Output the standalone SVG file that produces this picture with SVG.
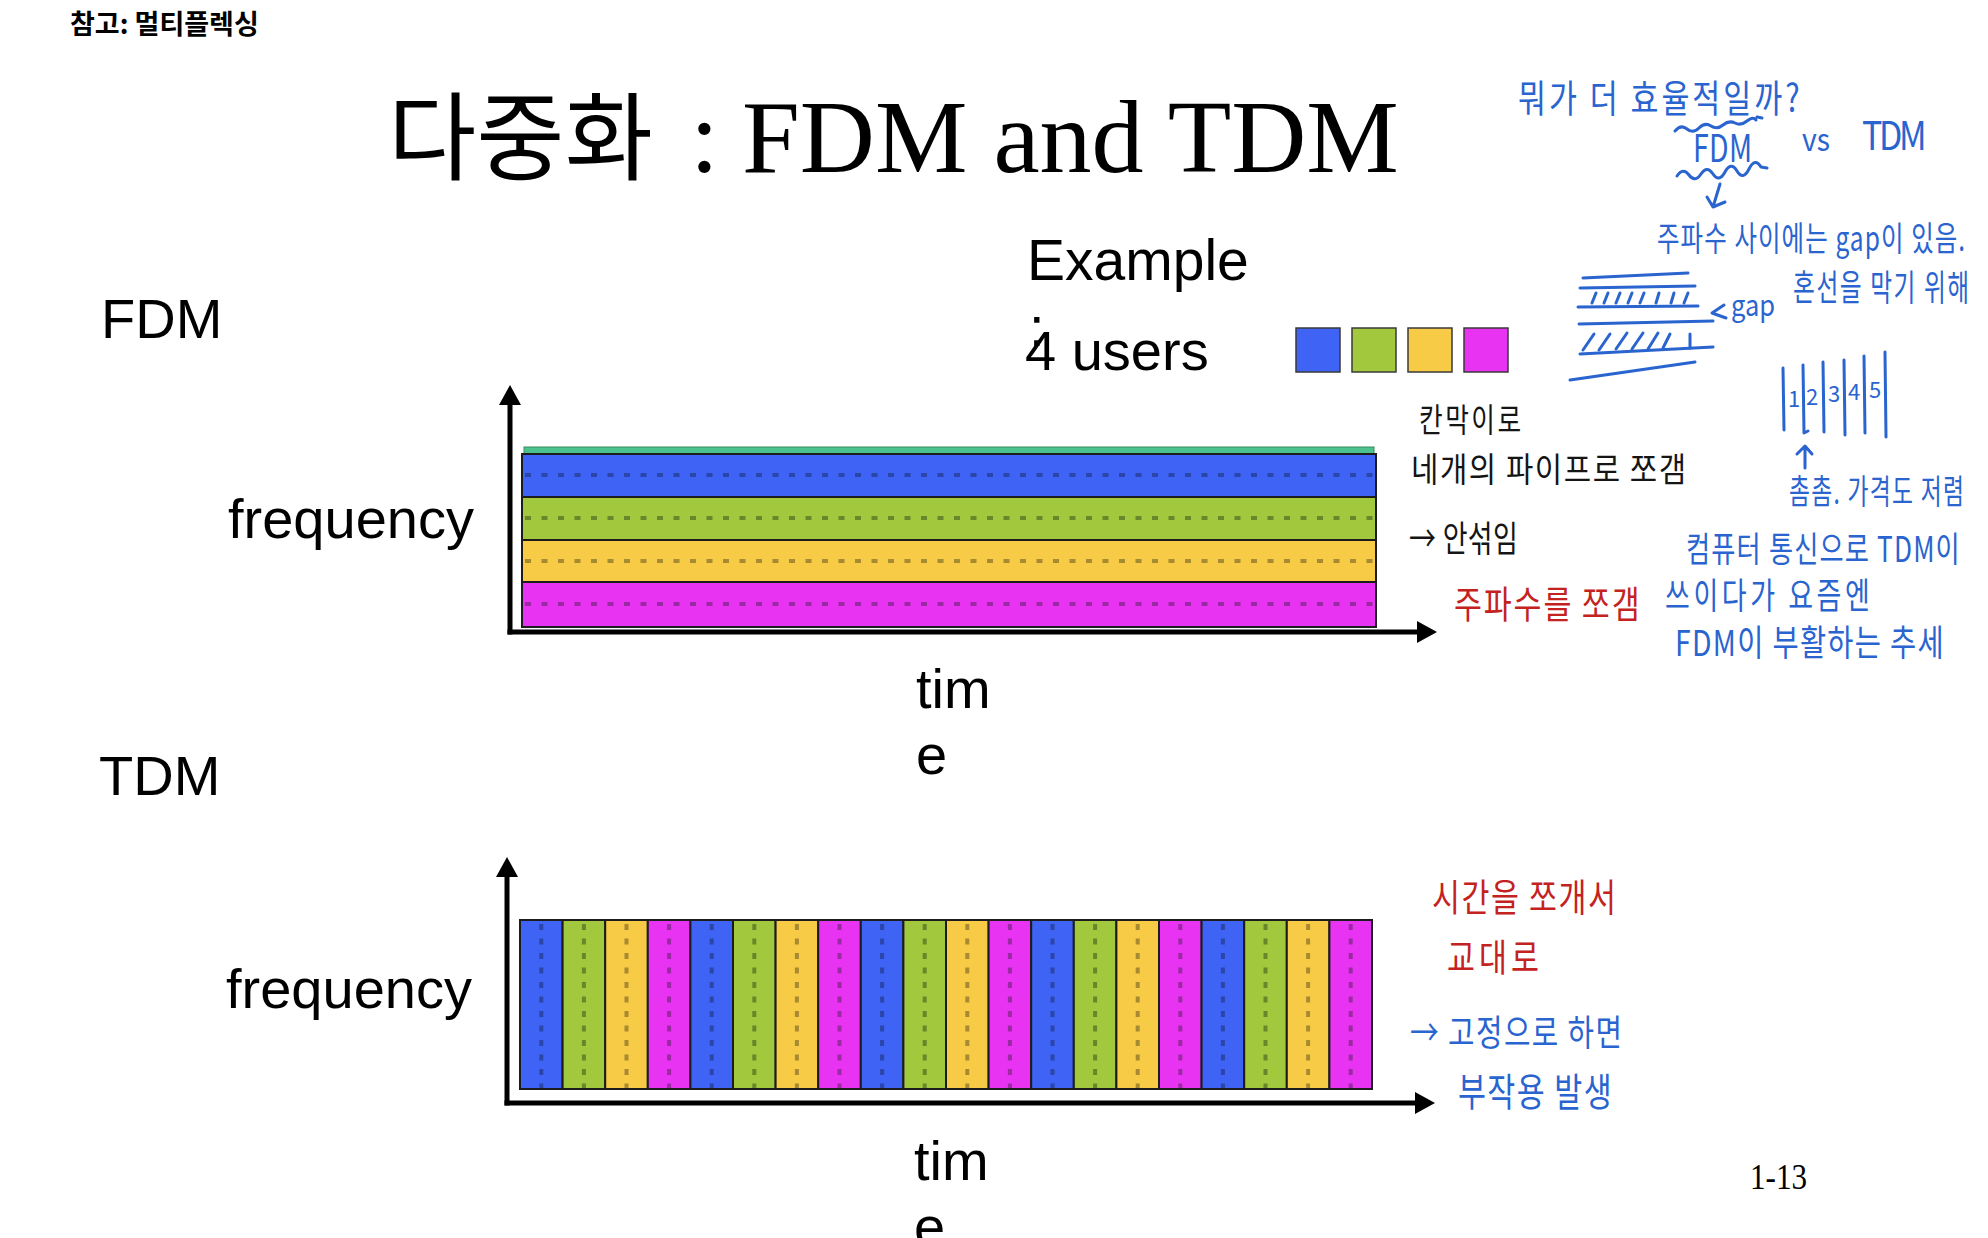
<svg xmlns="http://www.w3.org/2000/svg" width="1988" height="1238" viewBox="0 0 1988 1238">
<style>
.sans{font-family:"Liberation Sans",Arial,sans-serif;fill:#000}
.serif{font-family:"Liberation Serif","Times New Roman",serif;fill:#000}
.kr{font-family:"Noto Sans CJK KR",sans-serif;fill:#000}
.hb{font-family:"Noto Sans CJK KR",sans-serif;fill:#2a64cf}
.hr{font-family:"Noto Sans CJK KR",sans-serif;fill:#c4221e}
.hk{font-family:"Noto Sans CJK KR",sans-serif;fill:#151515}
.ink{fill:none;stroke:#2a64cf;stroke-width:3;stroke-linecap:round;stroke-linejoin:round}
.blue{fill:#3f63f5}.green{fill:#a2c83d}.yellow{fill:#f7cb46}.mag{fill:#e833f2}
.band{stroke:#1c1c1c;stroke-width:2}
.dh{fill:none;stroke-width:4;stroke-dasharray:6 10.5}
.dv{fill:none;stroke-width:4;stroke-dasharray:6 8.5}
.db{stroke:#2a46a8}.dg{stroke:#6a862a}.dy{stroke:#a88a30}.dm{stroke:#992aa2}
.axis{fill:none;stroke:#000;stroke-width:5}
.sq{stroke:#3a3a3a;stroke-width:1.5}
</style>
<defs>
<marker id="ah" markerUnits="userSpaceOnUse" viewBox="0 0 20 22" markerWidth="20" markerHeight="22" refX="3" refY="11" orient="auto">
<path d="M0,0 L20,11 L0,22 z" fill="#000"/>
</marker>
</defs>
<rect width="1988" height="1238" fill="#fff"/>

<g id="header">
<text class="kr" x="70" y="34" font-size="27" font-weight="700">참고: 멀티플렉싱</text>
<text x="388" y="172"><tspan class="kr" font-size="96">다중화</tspan><tspan class="serif" x="690" font-size="104">:</tspan><tspan class="serif" x="742" font-size="104">FDM and TDM</tspan></text>
<text class="serif" x="1750" y="1189" font-size="36" textLength="57" lengthAdjust="spacingAndGlyphs">1-13</text>
</g>

<g id="labels">
<text class="sans" x="101" y="338" font-size="56">FDM</text>
<text class="sans" x="99" y="795" font-size="56">TDM</text>
<text class="sans" x="228" y="538" font-size="56">frequency</text>
<text class="sans" x="226" y="1008" font-size="56">frequency</text>
<text class="sans" x="916" y="708" font-size="56">tim</text>
<text class="sans" x="916" y="774" font-size="56">e</text>
<text class="sans" x="914" y="1180" font-size="56">tim</text>
<text class="sans" x="914" y="1246" font-size="56">e</text>
</g>

<g id="legend">
<text class="sans" x="1027" y="280" font-size="57">Example</text>
<text class="sans" x="1029" y="346" font-size="56">:</text>
<text class="sans" x="1025" y="370" font-size="56">4 users</text>
<rect class="sq blue" x="1296" y="328" width="44" height="44"/>
<rect class="sq green" x="1352" y="328" width="44" height="44"/>
<rect class="sq yellow" x="1408" y="328" width="44" height="44"/>
<rect class="sq mag" x="1464" y="328" width="44" height="44"/>
</g>

<g id="fdm-chart">
<rect x="524" y="447" width="850" height="7" fill="#4cc28f" stroke="#3a8a5f" stroke-width="1"/>
<rect class="band blue" x="522" y="454" width="854" height="43"/>
<rect class="band green" x="522" y="497" width="854" height="43"/>
<rect class="band yellow" x="522" y="540" width="854" height="42"/>
<rect class="band mag" x="522" y="582" width="854" height="45"/>
<line class="dh db" x1="525" y1="475" x2="1374" y2="475"/>
<line class="dh dg" x1="525" y1="518" x2="1374" y2="518"/>
<line class="dh dy" x1="525" y1="561" x2="1374" y2="561"/>
<line class="dh dm" x1="525" y1="604" x2="1374" y2="604"/>
</g>

<g id="tdm-chart">
<g class="band">
<rect class="blue" x="520" y="920" width="42.6" height="169"/>
<rect class="green" x="562.6" y="920" width="42.6" height="169"/>
<rect class="yellow" x="605.2" y="920" width="42.6" height="169"/>
<rect class="mag" x="647.8" y="920" width="42.6" height="169"/>
<rect class="blue" x="690.4" y="920" width="42.6" height="169"/>
<rect class="green" x="733" y="920" width="42.6" height="169"/>
<rect class="yellow" x="775.6" y="920" width="42.6" height="169"/>
<rect class="mag" x="818.2" y="920" width="42.6" height="169"/>
<rect class="blue" x="860.8" y="920" width="42.6" height="169"/>
<rect class="green" x="903.4" y="920" width="42.6" height="169"/>
<rect class="yellow" x="946" y="920" width="42.6" height="169"/>
<rect class="mag" x="988.6" y="920" width="42.6" height="169"/>
<rect class="blue" x="1031.2" y="920" width="42.6" height="169"/>
<rect class="green" x="1073.8" y="920" width="42.6" height="169"/>
<rect class="yellow" x="1116.4" y="920" width="42.6" height="169"/>
<rect class="mag" x="1159" y="920" width="42.6" height="169"/>
<rect class="blue" x="1201.6" y="920" width="42.6" height="169"/>
<rect class="green" x="1244.2" y="920" width="42.6" height="169"/>
<rect class="yellow" x="1286.8" y="920" width="42.6" height="169"/>
<rect class="mag" x="1329.4" y="920" width="42.6" height="169"/>
</g>
<line class="dv db" x1="541.3" y1="924" x2="541.3" y2="1088"/>
<line class="dv dg" x1="583.9" y1="924" x2="583.9" y2="1088"/>
<line class="dv dy" x1="626.5" y1="924" x2="626.5" y2="1088"/>
<line class="dv dm" x1="669.1" y1="924" x2="669.1" y2="1088"/>
<line class="dv db" x1="711.7" y1="924" x2="711.7" y2="1088"/>
<line class="dv dg" x1="754.3" y1="924" x2="754.3" y2="1088"/>
<line class="dv dy" x1="796.9" y1="924" x2="796.9" y2="1088"/>
<line class="dv dm" x1="839.5" y1="924" x2="839.5" y2="1088"/>
<line class="dv db" x1="882.1" y1="924" x2="882.1" y2="1088"/>
<line class="dv dg" x1="924.7" y1="924" x2="924.7" y2="1088"/>
<line class="dv dy" x1="967.3" y1="924" x2="967.3" y2="1088"/>
<line class="dv dm" x1="1009.9" y1="924" x2="1009.9" y2="1088"/>
<line class="dv db" x1="1052.5" y1="924" x2="1052.5" y2="1088"/>
<line class="dv dg" x1="1095.1" y1="924" x2="1095.1" y2="1088"/>
<line class="dv dy" x1="1137.7" y1="924" x2="1137.7" y2="1088"/>
<line class="dv dm" x1="1180.3" y1="924" x2="1180.3" y2="1088"/>
<line class="dv db" x1="1222.9" y1="924" x2="1222.9" y2="1088"/>
<line class="dv dg" x1="1265.5" y1="924" x2="1265.5" y2="1088"/>
<line class="dv dy" x1="1308.1" y1="924" x2="1308.1" y2="1088"/>
<line class="dv dm" x1="1350.7" y1="924" x2="1350.7" y2="1088"/>
</g>

<g id="connectors">
<line class="axis" x1="510" y1="634.5" x2="510" y2="402" marker-end="url(#ah)"/>
<line class="axis" x1="507.5" y1="632" x2="1420" y2="632" marker-end="url(#ah)"/>
<line class="axis" x1="507" y1="1105.5" x2="507" y2="874" marker-end="url(#ah)"/>
<line class="axis" x1="504.5" y1="1103" x2="1418" y2="1103" marker-end="url(#ah)"/>
</g>

<g id="annotations-blue">
<text class="hb" transform="translate(1518,112) scale(0.8,1)" font-size="38" textLength="352">뭐가 더 효율적일까?</text>
<path class="ink" d="M1675 131 Q1681 124 1687 129 T1699 128 T1711 126 T1723 125 T1735 123 T1747 121 T1756 120 M1757 117 L1762 118"/>
<text class="hb" transform="translate(1693,162) scale(0.75,1)" font-size="38" textLength="79">FDM</text>
<text class="hb" x="1802" y="151" font-size="32" textLength="28" lengthAdjust="spacingAndGlyphs">vs</text>
<text class="hb" transform="translate(1862,150) scale(0.85,1)" font-size="40" textLength="76">TDM</text>
<path class="ink" d="M1677 176 Q1683 167 1689 175 T1701 174 T1713 174 T1725 172 T1737 171 T1749 169 T1761 167 L1767 168"/>
<path class="ink" d="M1720 184 L1713 207 M1707 197 L1713 207 L1725 202"/>
<text class="hb" transform="translate(1657,251) scale(0.72,1)" font-size="34" textLength="428">주파수 사이에는 gap이 있음.</text>
<text class="hb" transform="translate(1793,301) scale(0.66,1)" font-size="36" textLength="267">혼선을 막기 위해</text>
<path class="ink" d="M1583 278 L1688 273 M1580 288 L1695 286 M1578 307 L1698 306 M1579 324 L1713 321 M1580 354 L1713 347 M1570 380 L1695 362"/>
<path class="ink" d="M1592 303 L1596 293 M1604 303 L1608 293 M1616 303 L1620 293 M1628 303 L1632 293 M1640 303 L1644 293 M1656 303 L1659 293 M1671 303 L1674 293 M1684 303 L1688 293 M1583 350 L1594 334 M1599 350 L1610 334 M1616 349 L1627 333 M1632 349 L1643 333 M1648 349 L1658 333 M1663 348 L1670 334 M1690 348 L1690 334"/>
<path class="ink" d="M1724 305 L1712 313 L1726 318"/>
<text class="hb" x="1731" y="316" font-size="30" textLength="44" lengthAdjust="spacingAndGlyphs">gap</text>
<path class="ink" d="M1783 368 L1784 430 M1803 365 L1804 433 L1808 431 M1823 362 L1824 432 M1844 360 L1845 435 M1864 356 L1865 433 M1885 352 L1886 437"/>
<text class="hb" x="1788" y="407" font-size="22">1</text>
<text class="hb" x="1806" y="405" font-size="22">2</text>
<text class="hb" x="1828" y="402" font-size="22">3</text>
<text class="hb" x="1848" y="400" font-size="22">4</text>
<text class="hb" x="1869" y="398" font-size="22">5</text>
<path class="ink" d="M1805 446 L1805 468 M1797 454 L1805 446 L1812 454"/>
<text class="hb" transform="translate(1789,504) scale(0.67,1)" font-size="34" textLength="261">촘촘. 가격도 저렴</text>
<text class="hb" transform="translate(1686,562) scale(0.75,1)" font-size="35" textLength="365">컴퓨터 통신으로 TDM이</text>
<text class="hb" transform="translate(1665,609) scale(0.75,1)" font-size="36" textLength="273">쓰이다가 요즘엔</text>
<text class="hb" transform="translate(1675,656) scale(0.79,1)" font-size="36" textLength="340">FDM이 부활하는 추세</text>
<text class="hb" transform="translate(1410,1046) scale(0.8,1)" font-size="36" textLength="265">→ 고정으로 하면</text>
<text class="hb" transform="translate(1458,1106) scale(0.78,1)" font-size="39" textLength="197">부작용 발생</text>
</g>

<g id="annotations-black">
<text class="hk" transform="translate(1419,432) scale(0.78,1)" font-size="33" textLength="131">칸막이로</text>
<text class="hk" transform="translate(1411,482) scale(0.876,1)" font-size="34" textLength="314">네개의 파이프로 쪼갬</text>
<text class="hk" transform="translate(1409,552) scale(0.75,1)" font-size="36" textLength="145">→ 안섞임</text>
</g>

<g id="annotations-red">
<text class="hr" transform="translate(1454,618) scale(0.8,1)" font-size="38" textLength="232">주파수를 쪼갬</text>
<text class="hr" transform="translate(1432,911) scale(0.8,1)" font-size="38" textLength="230">시간을 쪼개서</text>
<text class="hr" transform="translate(1447,971) scale(0.8,1)" font-size="38" textLength="115">교대로</text>
</g>
</svg>
